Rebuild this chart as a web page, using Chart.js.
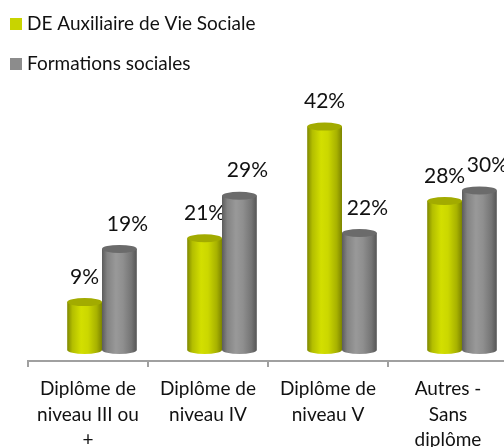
<!DOCTYPE html>
<html>
<head>
<meta charset="utf-8">
<script src="https://cdn.jsdelivr.net/npm/chart.js@4"></script>
<style>
  html, body { margin: 0; padding: 0; background: #fff; overflow: hidden; }
  #wrap { position: relative; width: 508px; height: 447px; }
</style>
</head>
<body>
<div id="wrap"><canvas id="chart"></canvas></div>
<script>
// données
const categories = [
  ['Diplôme de', 'niveau III ou', '+'],
  ['Diplôme de', 'niveau IV'],
  ['Diplôme de', 'niveau V'],
  ['Autres -', 'Sans', 'diplôme']
];
const seriesNames = ['DE Auxiliaire de Vie Sociale', 'Formations sociales'];
const deavsValues = [9, 21, 42, 28];
const socialesValues = [19, 29, 22, 30];

const FONT = 'Lato, "Open Sans", sans-serif';
const DX = 14, DY = -11;   // décalage "3D" des cylindres

const palette = [
  { base: '#c8d400', top: '#a2ab00', stops: ['#7f8800', '#b3be00', '#d3df00', '#cbd700', '#a7b100', '#7c8400'] },
  { base: '#8c8c8c', top: '#6b6b6b', stops: ['#5c5c5c', '#838383', '#999999', '#8f8f8f', '#747474', '#555555'] }
];

// cylindres + étiquettes
const cylinders = {
  id: 'cylinders',
  beforeDatasetDraw() { return false; },
  afterDatasetsDraw(chart) {
    const ctx = chart.ctx;
    chart.data.datasets.forEach((ds, i) => {
      const meta = chart.getDatasetMeta(i);
      const pal = palette[i];
      meta.data.forEach((el, j) => {
        const cx = el.x + DX, top = el.y + DY, base = el.base + DY;
        const rx = el.width / 2, ry = 4;
        const g = ctx.createLinearGradient(cx - rx, 0, cx + rx, 0);
        [0, 0.15, 0.4, 0.6, 0.85, 1].forEach((p, k) => g.addColorStop(p, pal.stops[k]));
        ctx.save();
        ctx.beginPath();
        ctx.moveTo(cx - rx, top);
        ctx.lineTo(cx - rx, base);
        ctx.ellipse(cx, base, rx, ry, 0, Math.PI, 0, true);
        ctx.lineTo(cx + rx, top);
        ctx.closePath();
        ctx.fillStyle = g;
        ctx.fill();
        ctx.beginPath();
        ctx.ellipse(cx, top, rx, ry, 0, 0, Math.PI * 2);
        ctx.fillStyle = pal.top;
        ctx.fill();
        // étiquette
        ctx.fillStyle = '#111';
        ctx.font = '21px ' + FONT;
        ctx.textAlign = 'center';
        ctx.textBaseline = 'middle';
        ctx.fillText(ds.data[j] + '%', cx + (i === 1 ? 8 : 0), top - 25);
        ctx.restore();
      });
    });
  }
};

// légende verticale
const legendBox = {
  id: 'legendBox',
  afterDraw(chart) {
    const ctx = chart.ctx;
    ctx.save();
    chart.data.datasets.forEach((ds, i) => {
      const y = 24 + i * 40;
      ctx.fillStyle = ds.backgroundColor;
      ctx.fillRect(10, y - 6, 12, 12);
      ctx.fillStyle = '#111';
      ctx.font = '19px ' + FONT;
      ctx.textAlign = 'left';
      ctx.textBaseline = 'middle';
      ctx.fillText(ds.label, 27, y);
    });
    ctx.restore();
  }
};

new Chart(document.getElementById('chart'), {
  type: 'bar',
  data: {
    labels: categories,
    datasets: [
      { label: seriesNames[0], data: deavsValues, backgroundColor: palette[0].base },
      { label: seriesNames[1], data: socialesValues, backgroundColor: palette[1].base }
    ]
  },
  options: {
    responsive: true, maintainAspectRatio: false, animation: false,
    categoryPercentage: 0.58, barPercentage: 1,
    layout: { padding: { top: 95, left: 28, right: 0, bottom: 0 } },
    plugins: { legend: { display: false }, tooltip: { enabled: false } },
    scales: {
      x: {
        grid: { display: true, drawOnChartArea: false, drawTicks: true, tickLength: 6, color: '#a0a0a0', lineWidth: 2 },
        border: { display: true, color: '#a0a0a0', width: 2 },
        ticks: { color: '#111', font: { family: FONT, size: 19, lineHeight: 1.35 }, padding: 9, maxRotation: 0, autoSkip: false },
        afterFit: s => { s.height = 86; }
      },
      y: { display: false, min: 0, max: 50 }
    }
  },
  plugins: [cylinders, legendBox]
});
</script>
</body>
</html>
